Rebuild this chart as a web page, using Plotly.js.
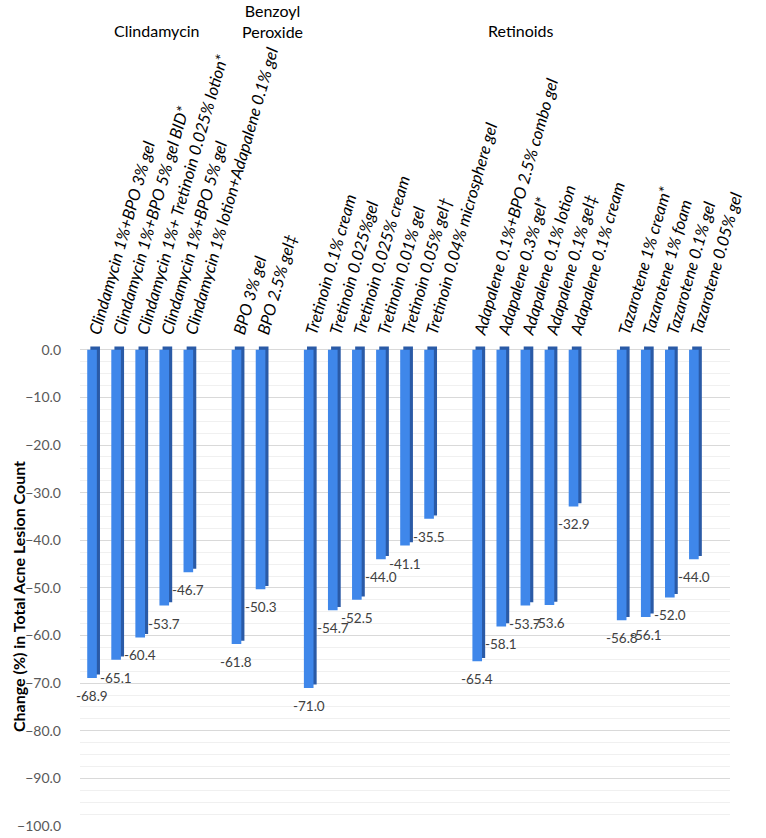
<!DOCTYPE html>
<html>
<head>
<meta charset="utf-8">
<script src="https://cdn.plot.ly/plotly-3.0.1.min.js"></script>
<style>html,body{margin:0;padding:0;background:#fff;}#chart{width:766px;height:838px;}</style>
</head>
<body>
<div id="chart"></div>
<script>
// ---- data ----
var groupNames = ["Clindamycin", "Benzoyl<br>Peroxide", "Retinoids"];
var clindamycinLabels = [
  "Clindamycin 1%+BPO 3% gel",
  "Clindamycin 1%+BPO 5% gel BID*",
  "Clindamycin 1%+ Tretinoin 0.025% lotion*",
  "Clindamycin 1%+BPO 5% gel",
  "Clindamycin 1% lotion+Adapalene 0.1% gel"
];
var clindamycinValues = [-68.9, -65.1, -60.4, -53.7, -46.7];
var bpoLabels = ["BPO 3% gel", "BPO 2.5% gel‡"];
var bpoValues = [-61.8, -50.3];
var tretinoinLabels = [
  "Tretinoin 0.1% cream",
  "Tretinoin 0.025%gel",
  "Tretinoin 0.025% cream",
  "Tretinoin 0.01% gel",
  "Tretinoin 0.05% gel†",
  "Tretinoin 0.04% microsphere gel"
];
var tretinoinValues = [-71.0, -54.7, -52.5, -44.0, -41.1, -35.5];
var adapaleneLabels = [
  "Adapalene 0.1%+BPO 2.5% combo gel",
  "Adapalene 0.3% gel*",
  "Adapalene 0.1% lotion",
  "Adapalene 0.1% gel‡",
  "Adapalene 0.1% cream"
];
var adapaleneValues = [-65.4, -58.1, -53.7, -53.6, -32.9];
var tazaroteneLabels = [
  "Tazarotene 1% cream*",
  "Tazarotene 1% foam",
  "Tazarotene 0.1% gel",
  "Tazarotene 0.05% gel"
];
var tazaroteneValues = [-56.8, -56.1, -52.0, -44.0];
var yTitle = "Change (%) in Total Acne Lesion Count";

// ---- build positions (one empty slot between groups) ----
var groups = [
  [clindamycinLabels, clindamycinValues],
  [bpoLabels, bpoValues],
  [tretinoinLabels, tretinoinValues],
  [adapaleneLabels, adapaleneValues],
  [tazaroteneLabels, tazaroteneValues]
];
var xs = [], ys = [], labels = [];
var pos = 0;
groups.forEach(function (g) {
  g[0].forEach(function (lab, i) {
    xs.push(pos); ys.push(g[1][i]); labels.push(lab); pos++;
  });
  pos++;
});
var nSlots = pos - 1;

var font = "Lato, 'Open Sans', sans-serif";

var side = {
  type: "bar", x: xs, y: ys, base: 0.7,
  width: 0.4, offset: -0.07,
  marker: {color: "#2a5aa6", line: {width: 0}},
  hoverinfo: "skip", showlegend: false
};
var front = {
  type: "bar", x: xs, y: ys,
  width: 0.4, offset: -0.2,
  marker: {color: "#3f87ea", line: {width: 0}},
  showlegend: false
};

var annotations = [];
xs.forEach(function (x, i) {
  annotations.push({
    x: x, y: ys[i], xref: "x", yref: "y", text: ys[i].toFixed(1),
    showarrow: false, xanchor: "center", yanchor: "middle", yshift: -18, xshift: 0,
    font: {family: font, size: 13.5, color: "#404040"}
  });
});
function hdr(text, px, py) {
  return {text: text, xref: "paper", yref: "paper", x: (px - 80) / 650, y: 1 + (346 - py) / 480,
    xanchor: "center", yanchor: "middle", showarrow: false, font: {family: font, size: 16, color: "#000"}};
}
annotations.push(hdr(groupNames[0], 157, 30));
annotations.push(hdr(groupNames[1], 272, 21));
annotations.push(hdr(groupNames[2], 521, 30));
annotations.push({
  text: "<b>" + yTitle + "</b>", xref: "paper", yref: "paper", x: (18 - 80) / 650, y: (826 - 597) / 480,
  xanchor: "center", yanchor: "middle", textangle: -90, showarrow: false,
  font: {family: font, size: 16, color: "#000"}
});

var layout = {
  width: 766, height: 838,
  margin: {l: 80, r: 36, t: 346, b: 12},
  paper_bgcolor: "#fff", plot_bgcolor: "#fff",
  barmode: "overlay",
  font: {family: font},
  xaxis: {
    side: "top", range: [-0.5, nSlots + 0.5],
    tickmode: "array", tickvals: xs, ticktext: labels,
    tickangle: -74, ticks: "", showgrid: false, zeroline: false, showline: false,
    tickfont: {family: font, size: 16.5, color: "#000", style: "italic"}
  },
  yaxis: {
    range: [-100, 0.8], dtick: 10, tick0: 0, tickformat: ".1f",
    gridcolor: "#d9d9d9", gridwidth: 1, zeroline: false, showline: false,
    minor: {dtick: 2.5, showgrid: true, gridcolor: "#f0f0f0"},
    tickfont: {family: font, size: 14, color: "#595959"},
    ticks: "", ticklabelstandoff: 18
  },
  annotations: annotations
};

Plotly.newPlot("chart", [side, front], layout, {displayModeBar: false, staticPlot: true});
</script>
</body>
</html>
